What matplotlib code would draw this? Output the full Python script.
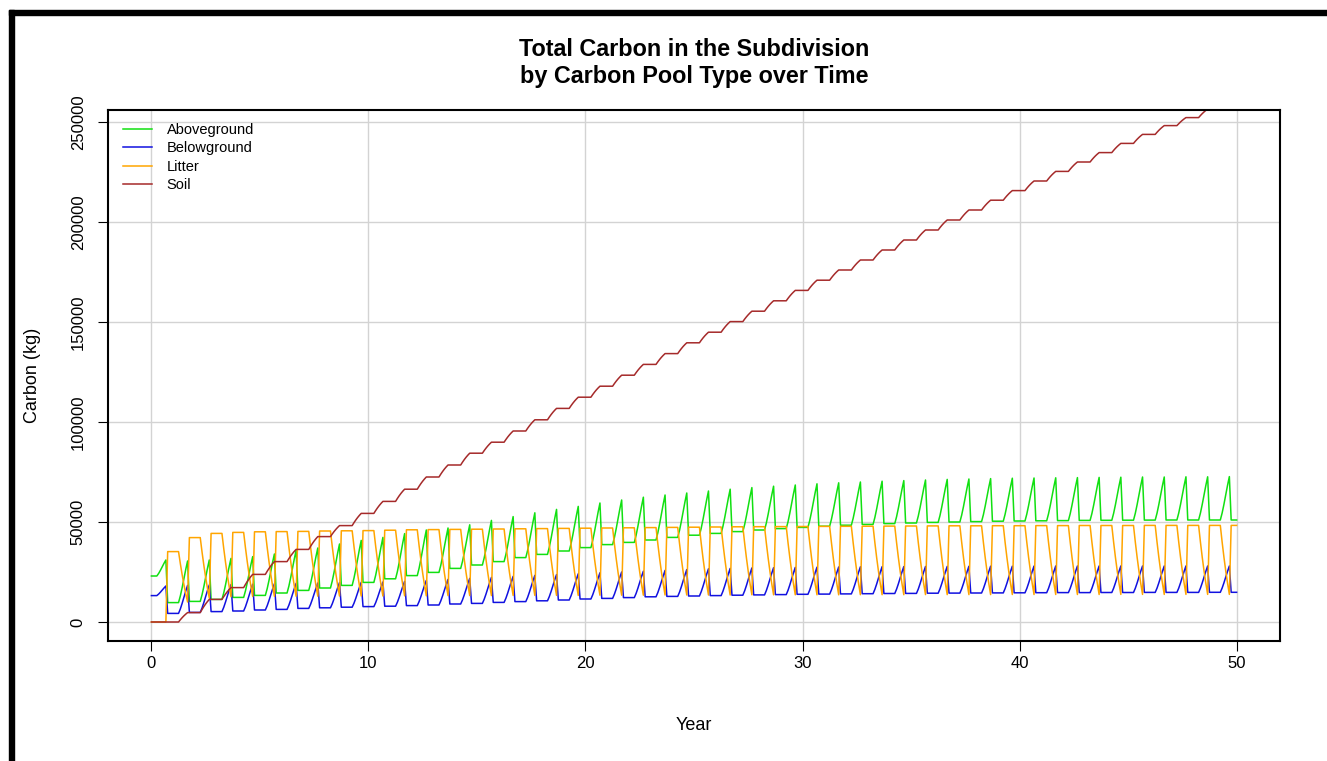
import numpy as np
import matplotlib.pyplot as plt
from matplotlib.patches import Rectangle

plt.rcParams['font.family'] = ['Liberation Sans', 'DejaVu Sans']

# Valores (kg de carbono), um valor por ano
# Aboveground: nível no início do ano (n = 0..50) e pico no meio do ano (n = 0..49)
ag_base = [23000, 9700, 10300, 11300, 12300, 13300, 14500, 15800, 17000, 18300,
           19800, 21600, 23200, 24800, 26800, 28500, 30200, 32200, 33800, 35500,
           37200, 38700, 39800, 41000, 42300, 43400, 44300, 45200, 46000, 46700,
           47300, 47900, 48400, 48800, 49200, 49500, 49800, 50000, 50200, 50400,
           50500, 50600, 50700, 50800, 50850, 50900, 50950, 51000, 51000, 51000,
           51000]
ag_peak = [31000, 30500, 31000, 31800, 32700, 34000, 35800, 37000, 39000, 40800,
           42300, 44200, 46000, 47000, 48600, 50800, 52700, 54600, 56300, 57800,
           59500, 61000, 62400, 63500, 64500, 65500, 66400, 67200, 67900, 68500,
           69100, 69600, 70000, 70400, 70700, 71000, 71300, 71500, 71700, 71900,
           72000, 72100, 72200, 72300, 72400, 72500, 72500, 72600, 72600, 72700]

# Belowground
bg_base = [13200, 4300, 4800, 5200, 5500, 6000, 6300, 6800, 7100, 7400,
           7700, 7900, 8200, 8500, 9000, 9300, 9800, 10200, 10600, 11000,
           11500, 11800, 12200, 12600, 12800, 13000, 13200, 13400, 13550, 13700,
           13850, 13950, 14050, 14150, 14250, 14300, 14400, 14450, 14500, 14550,
           14600, 14650, 14700, 14700, 14750, 14750, 14800, 14800, 14800, 14850,
           14850]
bg_peak = [18000, 18300, 18500, 18700, 18900, 19100, 19300, 19500, 19700, 19800,
           20000, 20300, 20800, 21300, 21800, 22300, 22800, 23300, 23700, 24100,
           24600, 25000, 25400, 25800, 26200, 26600, 26800, 27000, 27150, 27300,
           27400, 27500, 27600, 27650, 27700, 27750, 27800, 27850, 27900, 27900,
           27950, 28000, 28000, 28000, 28000, 28000, 28000, 28000, 28000, 28000]

# Litter: patamar alto no início do ano e valor mínimo após a decomposição
lit_high = [0, 35200, 42200, 44300, 44800, 45100, 45200, 45300, 45500, 45600,
            45700, 45900, 46100, 46200, 46300, 46400, 46500, 46600, 46700, 46800,
            46900, 47000, 47100, 47200, 47300, 47400, 47500, 47600, 47650, 47700,
            47750, 47800, 47850, 47900, 47950, 48000, 48050, 48100, 48100, 48150,
            48150, 48200, 48200, 48250, 48250, 48250, 48300, 48300, 48300, 48300,
            48300]
lit_low = [0, 10000, 12000, 12600, 12800, 12850, 12900, 12900, 13000, 13000,
           13000, 13100, 13100, 13200, 13200, 13200, 13300, 13300, 13300, 13300,
           13400, 13400, 13400, 13500, 13500, 13500, 13500, 13600, 13600, 13600,
           13600, 13600, 13650, 13650, 13650, 13700, 13700, 13700, 13700, 13750,
           13750, 13750, 13750, 13750, 13800, 13800, 13800, 13800, 13800, 13800]

# Soil: patamar no início de cada ano
soil_level = [0, 0, 4700, 11300, 17200, 23800, 30200, 36300, 42700, 48200,
              54300, 60300, 66400, 72500, 78500, 84400, 89900, 95500, 101100, 106800,
              112400, 117900, 123400, 128800, 134200, 139600, 144900, 150200, 155400, 160600,
              165800, 170900, 176000, 181000, 186000, 191000, 196000, 201000, 206000, 210900,
              215700, 220500, 225300, 230000, 234700, 239300, 243800, 248200, 252200, 256500,
              260700]

# Forma mensal da subida/descida entre os meses 3 e 8 (fração da variação)
grow_shape = [0, 0.16, 0.36, 0.58, 0.8, 1.0]
decay_shape = [0, 0.24, 0.46, 0.66, 0.84, 1.0]

labels = ["Aboveground", "Belowground", "Litter", "Soil"]
colors = ["#11e011", "#1111e0", "#ffa500", "#a52a2a"]


def monthly(start, mid, after, shape):
    t, v = [], []
    for n in range(50):
        for m in range(12):
            t.append(n + m / 12)
            if m <= 3:
                v.append(start[n])
            elif m <= 8:
                v.append(start[n] + (mid[n] - start[n]) * shape[m - 3])
            else:
                v.append(after[n + 1])
    t.append(50)
    v.append(after[50])
    return np.array(t), np.array(v)


series = [
    monthly(ag_base, ag_peak, ag_base, grow_shape),
    monthly(bg_base, bg_peak, bg_base, grow_shape),
    monthly(lit_high, lit_low, lit_high, decay_shape),
    monthly(soil_level, soil_level[1:] + [soil_level[-1]], soil_level, decay_shape),
]

fig = plt.figure(figsize=(13.27, 7.61), dpi=100)
ax = fig.add_axes([108 / 1327, 1 - 641 / 761, (1280 - 108) / 1327, (641 - 110) / 761])

for (t, v), lab, col in zip(series, labels, colors):
    ax.plot(t, v, color=col, lw=1.1, label=lab)

ax.set_xlim(-2, 52)
ax.set_ylim(-9500, 256000)
ax.set_xticks(range(0, 51, 10))
ax.set_yticks(range(0, 250001, 50000))
ax.grid(color="#d3d3d3", lw=1.0)
ax.set_axisbelow(True)
for s in ax.spines.values():
    s.set_linewidth(1.5)
ax.tick_params(direction="out", length=7, width=0.8, labelsize=12, pad=4)
ax.tick_params(axis="y", pad=9)
for lb in ax.get_yticklabels():
    lb.set_rotation(90)
    lb.set_va("center")

ax.set_xlabel("Year", fontsize=13)
ax.xaxis.set_label_coords(0.5, (641 - 725) / 531)
ax.xaxis.label.set_va("center")
ax.set_ylabel("Carbon (kg)", fontsize=13)
ax.yaxis.set_label_coords((32 - 108) / 1172, 0.5)
ax.yaxis.label.set_va("center")

fig.text(694 / 1327, 1 - 63 / 761, "Total Carbon in the Subdivision\nby Carbon Pool Type over Time",
         ha="center", va="center", fontsize=16.8, fontweight="bold", linespacing=1.2)

ax.legend(loc="upper left", bbox_to_anchor=(15 / 1172, 1 - 13 / 531), frameon=False,
          fontsize=10.5, handlelength=2.0, handletextpad=1.0, labelspacing=0.3,
          borderaxespad=0, borderpad=0)

# moldura da captura de tela
fig.add_artist(Rectangle((9 / 1327, 0), 5 / 1327, 1 - 10 / 761, color="black",
                         transform=fig.transFigure))
fig.add_artist(Rectangle((9 / 1327, 1 - 15 / 761), 1 - 9 / 1327, 5 / 761, color="black",
                         transform=fig.transFigure))

fig.savefig("out.png", dpi=100)
